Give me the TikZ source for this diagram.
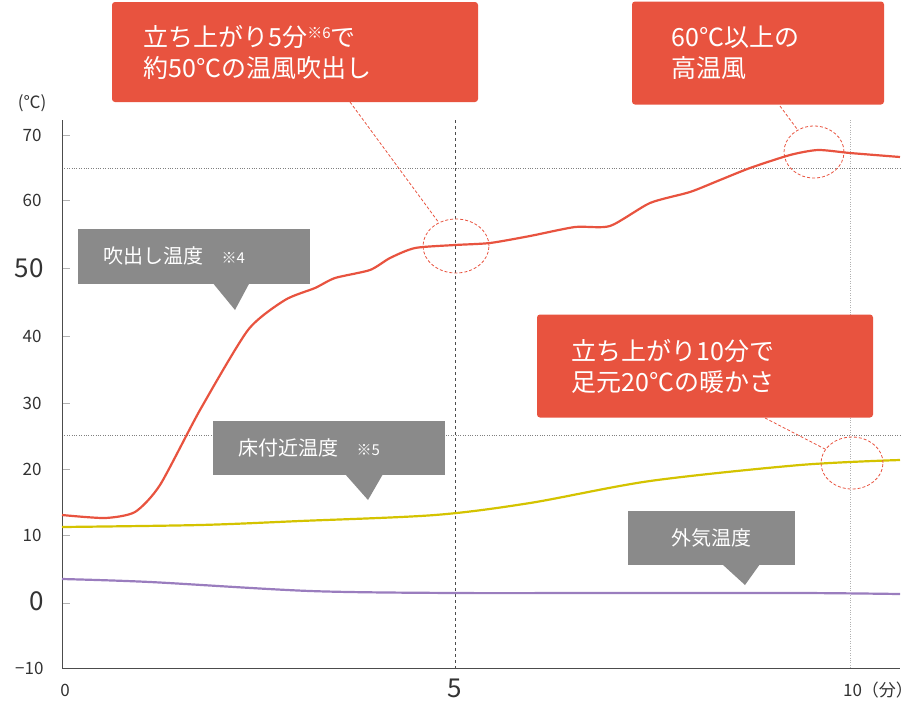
\documentclass[tikz,border=0pt]{standalone}
\usepackage{fontspec}
\usetikzlibrary{shapes.geometric}
\setmainfont{Noto Sans CJK JP}
\begin{document}
\begin{tikzpicture}[x=1pt,y=-1pt,
  redbox/.style={fill=cR,rounded corners=3pt,text=white,font=\fontsize{25}{31}\selectfont,align=left,inner sep=0pt},
  graybox/.style={fill=cG,text=white,font=\fontsize{20}{24}\selectfont,inner sep=0pt},
  ring/.style={draw=cR,densely dashed,line width=0.8pt},
  lead/.style={draw=cR,densely dashed,line width=0.8pt},
  tick/.style={font=\fontsize{17}{20}\selectfont,text=cT,anchor=east},
  big/.style={font=\fontsize{26}{30}\selectfont,text=cT}]
\definecolor{cR}{HTML}{E8533F}
\definecolor{cG}{HTML}{8A8A8A}
\definecolor{cY}{HTML}{D4C300}
\definecolor{cP}{HTML}{9A7DBE}
\definecolor{cT}{HTML}{333333}
\path[use as bounding box] (0,0) rectangle (921,705);
% grid
\draw[gray,dotted] (62,168) -- (900,168);
\draw[gray,dotted] (62,435) -- (900,435);
\draw[black!70,dashed] (455,120) -- (455,668);
\draw[gray!60,dotted] (850,120) -- (850,668);
\draw[gray!60,line width=0.6pt] (62,200) -- (70,200) (62,268)--(70,268) (62,336)--(70,336) (62,403)--(70,403) (62,469)--(70,469) (62,535)--(70,535) (62,603)--(70,603) (62,135)--(70,135);
\draw[black!70,line width=0.8pt] (62,120) -- (62,668) -- (900,668);
% ticks
\node[tick] at (45,135) {70};
\node[tick] at (45,200) {60};
\node[big,anchor=east] at (47,268) {50};
\node[tick] at (45,336) {40};
\node[tick] at (45,403) {30};
\node[tick] at (45,469) {20};
\node[tick] at (45,535) {10};
\node[big,anchor=east] at (47,601) {0};
\node[tick] at (47,668) {−10};
\node[tick,anchor=center] at (32,103) {(℃)};
\node[tick,anchor=center] at (65,690) {0};
\node[big] at (455,688) {5};
\node[tick,anchor=center] at (878,690) {10（分）};
% curves
\draw[cP,line width=2.2pt] plot[smooth] coordinates {(62,579)(150,582)(310,591)(455,593)(600,593)(800,593)(900,594)};
\draw[cY,line width=2.2pt] plot[smooth] coordinates {(62,527)(200,525)(300,521)(435,515)(530,503)(650,481)(800,465)(900,460)};
\draw[cR,line width=2.2pt] plot[smooth,tension=0.4] coordinates {(62,515)(105,518)(135,512)(160,485)(200,410)(248,330)(285,300)(315,288)(335,278)(370,270)(390,258)(415,248)(455,245)(490,243)(530,236)(575,227)(610,226)(650,203)(690,192)(720,180)(750,168)(790,155)(818,150)(850,153)(900,157)};
% red callouts
\node[redbox,minimum width=366pt,minimum height=100pt] (r1) at (295,52) {};
\node[text=white,font=\fontsize{25}{31}\selectfont,align=left,anchor=west] (t1) at (140,52) {立ち上がり5分\raisebox{8pt}{\fontsize{15}{18}\selectfont ※6}で\\約50℃の温風吹出し};
\node[redbox,minimum width=252pt,minimum height=103pt] (r2) at (758,53) {};
\node[text=white,font=\fontsize{25}{31}\selectfont,align=left,anchor=west] (t2) at (668,53) {60℃以上の\\高温風};
\node[redbox,minimum width=336pt,minimum height=103pt] (r3) at (705,366) {};
\node[text=white,font=\fontsize{25}{31}\selectfont,align=left,anchor=west] (t3) at (568,366) {立ち上がり10分で\\足元20℃の暖かさ};
\node[ring,ellipse,minimum width=66pt,minimum height=54pt,inner sep=0pt] (c1) at (456,246) {};
\node[ring,ellipse,minimum width=60pt,minimum height=52pt,inner sep=0pt] (c2) at (814,152) {};
\node[ring,ellipse,minimum width=62pt,minimum height=52pt,inner sep=0pt] (c3) at (852,463) {};
\coordinate (a1) at (350,102);
\coordinate (a2) at (780,106);
\coordinate (a3) at (765,418);
\draw[lead] (a1) -- (c1);
\draw[lead] (a2) -- (c2);
\draw[lead] (a3) -- (c3);
% gray callouts
\node[graybox,minimum width=232pt,minimum height=55pt] (g1) at (194,256) {};
\node[text=white,font=\fontsize{20}{24}\selectfont,anchor=west] at (100,256) {吹出し温度\hspace{18pt}{\fontsize{15}{18}\selectfont ※4}};
\fill[cG] (212,282) -- (235,310) -- (250,282) -- cycle;
\node[graybox,minimum width=232pt,minimum height=54pt] (g2) at (329,448) {};
\node[text=white,font=\fontsize{20}{24}\selectfont,anchor=west] at (235,448) {床付近温度\hspace{18pt}{\fontsize{15}{18}\selectfont ※5}};
\fill[cG] (345,474) -- (368,500) -- (383,474) -- cycle;
\node[graybox,minimum width=167pt,minimum height=54pt] (g3) at (711,538) {外気温度};
\fill[cG] (722,564) -- (745,585) -- (760,564) -- cycle;
\end{tikzpicture}
\end{document}
